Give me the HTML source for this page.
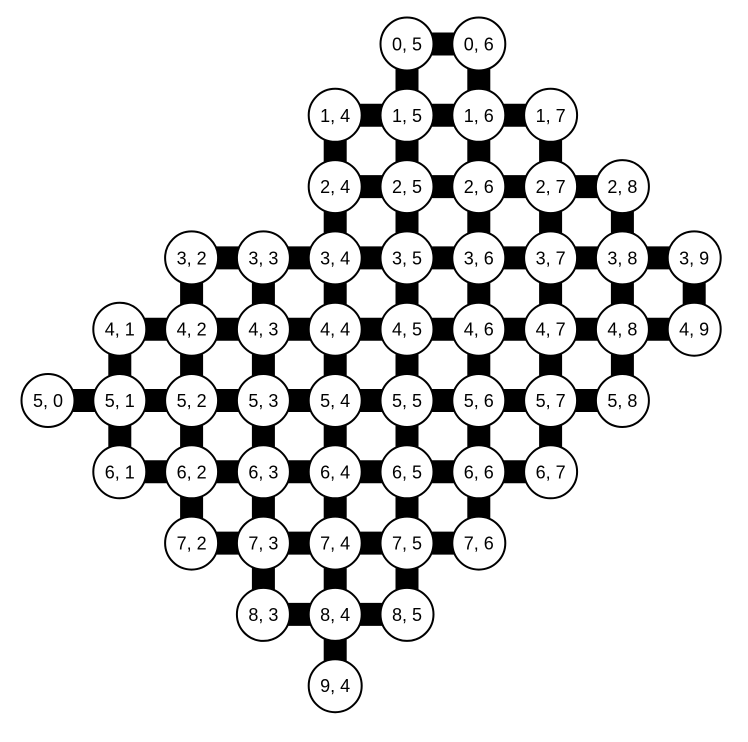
<!DOCTYPE html>
<html><head><meta charset="utf-8"><style>
html,body{margin:0;padding:0;background:#fff;}
svg{display:block;}
text{font-family:"Liberation Sans",sans-serif;font-size:18px;}
</style></head><body>
<svg id="g" width="748" height="742" viewBox="0 0 748 742">
<g id="edges"></g>
<g id="nodes"></g>
</svg>
<script>
const rows = [0,1,2,3,4,5,6,7,8,9];
const colStart = [5,4,4,2,1,0,1,2,3,4];
const colEnd   = [6,7,8,9,9,8,7,6,5,4];
const NS='http://www.w3.org/2000/svg';
const xOf=c=>48+71.8*c, yOf=r=>44+71.3*r;
const set=new Set();
rows.forEach((r,i)=>{for(let c=colStart[i];c<=colEnd[i];c++)set.add(r+','+c);});
const E=document.getElementById('edges'),N=document.getElementById('nodes');
function line(r1,c1,r2,c2){
  const l=document.createElementNS(NS,'line');
  l.setAttribute('x1',xOf(c1));l.setAttribute('y1',yOf(r1));
  l.setAttribute('x2',xOf(c2));l.setAttribute('y2',yOf(r2));
  l.setAttribute('stroke','#000');l.setAttribute('stroke-width','23');
  
  
  E.appendChild(l);
}
set.forEach(k=>{const [r,c]=k.split(',').map(Number);
  if(set.has(r+','+(c+1)))line(r,c,r,c+1);
  if(set.has((r+1)+','+c))line(r,c,r+1,c);
});
set.forEach(k=>{const [r,c]=k.split(',').map(Number);
  const g=document.createElementNS(NS,'g');
  
  
  const ci=document.createElementNS(NS,'circle');
  ci.setAttribute('cx',xOf(c));ci.setAttribute('cy',yOf(r));ci.setAttribute('r','26.5');
  ci.setAttribute('fill','#fff');ci.setAttribute('stroke','#000');ci.setAttribute('stroke-width','2');
  const t=document.createElementNS(NS,'text');
  t.setAttribute('x',xOf(c));t.setAttribute('y',yOf(r)+6.5);t.setAttribute('text-anchor','middle');
  t.textContent=r+', '+c;
  g.appendChild(ci);g.appendChild(t);N.appendChild(g);
});
</script>
</body></html>
